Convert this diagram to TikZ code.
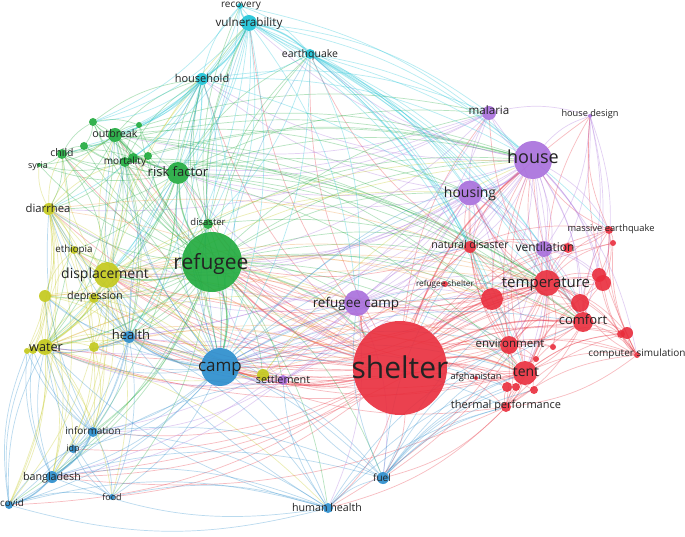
\documentclass[tikz,border=0pt]{standalone}
\usepackage{fontspec}
\setmainfont{Open Sans}
\pgfdeclarelayer{bg}
\pgfdeclarelayer{edges}
\pgfsetlayers{bg,edges,main}
\definecolor{cRed}{RGB}{233,45,60}
\definecolor{cPur}{RGB}{168,110,220}
\definecolor{cGrn}{RGB}{30,170,60}
\definecolor{cYel}{RGB}{195,200,25}
\definecolor{cCyn}{RGB}{25,195,215}
\definecolor{cBlu}{RGB}{40,140,205}
\definecolor{cOrg}{RGB}{240,150,60}
\definecolor{cTxt}{RGB}{35,35,35}
\tikzset{
  dot/.style={circle, inner sep=0pt, draw=none, fill opacity=0.9},
  lab/.style={inner sep=0pt, text=cTxt, anchor=base},
  edge/.style={line width=0.7pt, draw opacity=0.32},
  bigedge/.style={line width=1.6pt, draw opacity=0.32}
}
\newcommand\vnode[5]{\node[dot, minimum size=#4*2pt, fill=#5] (#1) at (#2,#3) {};}
\newcommand\vlabel[5]{\node[lab, font={\fontsize{#4}{#4}\selectfont}] (l#1) at (#2,{#3+0.27*#4}) {#5};}
\newcommand\vedges[3]{\foreach \t in {#3} {\draw[edge, draw=#2] (#1) to[bend left=15] (\t);}}
\begin{document}
\begin{tikzpicture}[x=1pt,y=-1pt]
\useasboundingbox (0,0) rectangle (685,537);
\begin{pgfonlayer}{bg}
\fill[white] (0,0) rectangle (685,537);
\end{pgfonlayer}
% ---------- nodes: red
\vnode{shelter}{400}{368}{47}{cRed}
\vnode{temp}{547}{283}{13}{cRed}
\vnode{comfort}{583}{322}{10}{cRed}
\vnode{r2}{580}{303}{9}{cRed}
\vnode{r3}{492}{299}{11}{cRed}
\vnode{natdis}{470}{247}{6}{cRed}
\vnode{refsh}{445}{284}{3}{cRed}
\vnode{masseq}{609}{230}{4}{cRed}
\vnode{r4}{613}{243}{3}{cRed}
\vnode{r5}{568}{248}{5}{cRed}
\vnode{r6}{599}{275}{7}{cRed}
\vnode{r7}{603}{283}{8}{cRed}
\vnode{env}{509}{345}{9}{cRed}
\vnode{r8}{553}{347}{3}{cRed}
\vnode{tent}{525}{373}{12}{cRed}
\vnode{r9}{536}{359}{3}{cRed}
\vnode{r10}{507}{387}{5}{cRed}
\vnode{r11}{516}{387}{4}{cRed}
\vnode{r12}{534}{390}{4}{cRed}
\vnode{afgh}{476}{378}{2}{cRed}
\vnode{thermal}{506}{407}{5}{cRed}
\vnode{compsim}{637}{355}{3}{cRed}
\vnode{r13}{621}{334}{4}{cRed}
\vnode{r14}{627}{333}{6}{cRed}
% purple
\vnode{house}{533}{160}{19}{cPur}
\vnode{housing}{470}{193}{12.5}{cPur}
\vnode{malaria}{489}{113}{7}{cPur}
\vnode{hdesign}{590}{116}{2}{cPur}
\vnode{vent}{544}{249}{8}{cPur}
\vnode{refcamp}{357}{303}{13}{cPur}
\vnode{settle}{283}{380}{5}{cPur}
% yellow
\vnode{displ}{107}{275}{13}{cYel}
\vnode{diarr}{49}{209}{6}{cYel}
\vnode{ethiop}{74}{250}{4}{cYel}
\vnode{depr}{94}{298}{5}{cYel}
\vnode{y1}{45}{296}{6}{cYel}
\vnode{water}{45}{347}{8}{cYel}
\vnode{y2}{27}{351}{3}{cYel}
\vnode{y3}{33}{350}{4}{cYel}
\vnode{y4}{94}{347}{5}{cYel}
\vnode{y5}{263}{375}{6}{cYel}
% green
\vnode{refugee}{212}{262}{30}{cGrn}
\vnode{risk}{178}{173}{11}{cGrn}
\vnode{disaster}{208}{224}{5}{cGrn}
\vnode{outbreak}{115}{135}{7}{cGrn}
\vnode{mortal}{125}{162}{5}{cGrn}
\vnode{g1}{133}{158}{5}{cGrn}
\vnode{g2}{148}{156}{4}{cGrn}
\vnode{child}{62}{154}{5}{cGrn}
\vnode{syria}{39}{165}{2}{cGrn}
\vnode{g3}{93}{122}{4}{cGrn}
\vnode{g4}{139}{125}{3}{cGrn}
\vnode{g5}{84}{146}{4}{cGrn}
% cyan
\vnode{vuln}{249}{23}{8}{cCyn}
\vnode{recov}{240}{6}{3}{cCyn}
\vnode{quake}{310}{54}{5}{cCyn}
\vnode{hhold}{202}{79}{6}{cCyn}
% blue
\vnode{camp}{220}{367}{19}{cBlu}
\vnode{health}{129}{337}{6}{cBlu}
\vnode{info}{93}{432}{5}{cBlu}
\vnode{idp}{73}{449}{4}{cBlu}
\vnode{bangla}{52}{477}{6}{cBlu}
\vnode{covid}{9}{505}{4}{cBlu}
\vnode{food}{112}{497}{3}{cBlu}
\vnode{hhealth}{328}{508}{5}{cBlu}
\vnode{fuel}{383}{478}{6}{cBlu}
% ---------- edges
\begin{pgfonlayer}{edges}
\foreach \s/\t/\c in {shelter/refugee/cRed, shelter/camp/cRed, shelter/temp/cRed, shelter/house/cRed, shelter/refcamp/cRed, refugee/camp/cGrn, house/housing/cPur, refugee/risk/cGrn, refugee/displ/cGrn, camp/health/cBlu, displ/water/cYel, vuln/quake/cCyn, vuln/hhold/cCyn, shelter/tent/cRed, shelter/comfort/cRed, temp/comfort/cRed, refugee/shelter/cGrn, vuln/recov/cCyn, bangla/covid/cBlu, info/bangla/cBlu, risk/outbreak/cGrn}
  {\draw[bigedge, draw=\c] (\s) to[bend left=15] (\t);}
\vedges{shelter}{cRed}{temp, comfort, r2, r3, natdis, refsh, masseq, r4, r5, r6, r7, env, r8, tent, r9, r10, r11, r12, afgh, thermal, compsim, r13, r14, house, housing, malaria, hdesign, vent, refcamp, settle, displ, diarr, water, depr, refugee, risk, disaster, outbreak, mortal, vuln, quake, hhold, camp, health, info, idp, bangla, covid, food, hhealth, fuel, y4, y5, ethiop, child}
\vedges{temp}{cRed}{comfort, r2, r3, natdis, masseq, r4, r5, r6, r7, env, tent, thermal, compsim, r13, r14, r8, r9, house, housing, vent, refugee, camp, refcamp, malaria, hdesign, displ, health, water, bangla, hhealth, fuel}
\vedges{comfort}{cRed}{r2, r6, r7, compsim, r13, r14, env, tent, r3, thermal, masseq, house, housing, vent, natdis, refugee, camp}
\vedges{r3}{cRed}{natdis, env, tent, thermal, refsh, r2, house, housing, refugee, camp}
\vedges{tent}{cRed}{env, r9, r10, r11, r12, thermal, compsim, r13, r14, r2, r7, afgh, natdis, house, refugee, camp, displ, health, water}
\vedges{env}{cRed}{r8, r9, thermal, compsim, r2, natdis, house, housing, health, refugee, camp}
\vedges{natdis}{cRed}{masseq, r5, vent, house, housing, refugee, camp, quake}
\vedges{compsim}{cRed}{r13, r14, masseq, r4, r2, r6, r7, thermal, hdesign}
\vedges{thermal}{cRed}{r10, r11, r12, compsim, r14, comfort, hhealth, fuel, camp, bangla}
\vedges{masseq}{cRed}{r4, r6, r7, r5, hdesign, house}
\vedges{house}{cPur}{housing, malaria, hdesign, vent, refcamp, temp, comfort, r3, r6, r7, tent, env, natdis, refugee, camp, settle, health, displ, quake, vuln, hhold, risk, compsim, r2, masseq}
\vedges{housing}{cPur}{malaria, vent, refcamp, temp, comfort, r3, tent, env, natdis, refugee, camp, settle, health, displ, risk, hhold}
\vedges{malaria}{cPur}{hdesign, vent, refugee, risk, outbreak, mortal, diarr, camp, refcamp}
\vedges{hdesign}{cPur}{vent, temp, comfort, r2, r7}
\vedges{vent}{cPur}{temp, comfort, r3, r5, r6, r7, tent, env}
\vedges{refcamp}{cPur}{refugee, camp, settle, health, displ, water, temp, tent, r3, env, natdis, risk, diarr, info, bangla, hhealth, fuel}
\vedges{settle}{cPur}{camp, refugee, displ, water, health, info, bangla, temp}
\vedges{refugee}{cGrn}{camp, displ, health, risk, disaster, outbreak, mortal, g1, g2, child, syria, g3, g4, g5, diarr, water, depr, ethiop, y1, y3, y4, hhold, vuln, quake, recov, house, housing, refcamp, temp, tent, comfort, info, bangla, idp, covid, food, settle, malaria, natdis, env, hhealth, fuel, r3, y5}
\vedges{risk}{cGrn}{disaster, outbreak, mortal, g1, g2, child, syria, g3, g4, g5, diarr, displ, water, health, camp, hhold, vuln, quake, house, housing, temp, comfort, tent, r3, malaria, depr, ethiop, info}
\vedges{outbreak}{cGrn}{mortal, g1, g2, child, syria, g3, g4, g5, diarr, camp, health, water, displ, hhold, malaria, house, housing, temp, r3, comfort}
\vedges{mortal}{cGrn}{g1, g2, child, syria, g3, g4, g5, diarr, camp, health, water, displ, hhold, house, temp, natdis}
\vedges{child}{cGrn}{syria, g3, g5, g1, diarr, displ, water, camp, house}
\vedges{g3}{cGrn}{g4, g5, g1, hhold}
\vedges{g1}{cGrn}{house, temp}
\vedges{disaster}{cGrn}{camp, hhold, vuln, quake, displ, house, temp, health}
\vedges{displ}{cYel}{diarr, ethiop, depr, y1, water, y2, y3, y4, y5, health, camp, refugee, risk, mortal, outbreak, child, info, bangla, idp, covid, house, housing, refcamp, hhold, vuln, food}
\vedges{diarr}{cYel}{ethiop, y1, water, y2, y3, y4, depr, camp, health, info, bangla, covid, child, syria, mortal, outbreak}
\vedges{water}{cYel}{y1, y2, y3, y4, depr, ethiop, health, camp, info, bangla, idp, covid, food, hhealth, refcamp, house}
\vedges{y1}{cYel}{y2, y3, y4, depr, ethiop, camp, health, bangla, covid}
\vedges{y4}{cYel}{depr, health, camp, info, bangla, y3}
\vedges{y5}{cYel}{camp, settle, refcamp, health, displ, water, house}
\vedges{depr}{cYel}{ethiop, health, camp, info}
\vedges{ethiop}{cYel}{camp, health}
\vedges{displ}{cOrg}{shelter, temp, tent, comfort, r3}
\vedges{water}{cOrg}{shelter, temp}
\vedges{diarr}{cOrg}{shelter, temp}
\vedges{y5}{cOrg}{shelter, temp}
\vedges{depr}{cOrg}{shelter, temp}
\vedges{y1}{cOrg}{shelter}
\vedges{y4}{cOrg}{shelter, tent}
\vedges{vuln}{cCyn}{recov, quake, hhold, refugee, risk, camp, health, displ, house, housing, temp, comfort, r3, natdis, outbreak, mortal, g3, g4, disaster, malaria, refcamp}
\vedges{quake}{cCyn}{recov, hhold, natdis, masseq, house, housing, temp, comfort, r3, r2, refcamp, camp, disaster, vent, tent, env}
\vedges{hhold}{cCyn}{recov, camp, health, displ, outbreak, mortal, g3, g4, g5, child, diarr, water, risk, disaster, malaria, house, temp}
\vedges{recov}{cCyn}{hhold, quake, risk, g3, house}
\vedges{camp}{cBlu}{health, info, idp, bangla, covid, food, hhealth, fuel, settle, y5, refcamp, displ, water, diarr, y1, y4, depr, risk, disaster, outbreak, mortal, hhold, vuln, quake, house, housing, temp, tent, env, comfort, thermal, r3, natdis, r10}
\vedges{health}{cBlu}{info, idp, bangla, covid, food, water, y1, y3, y4, depr, displ, diarr, hhealth, fuel, risk, mortal, outbreak, hhold}
\vedges{info}{cBlu}{idp, bangla, covid, food, water, y2, y3, diarr, y1, hhealth, fuel}
\vedges{bangla}{cBlu}{idp, covid, food, water, y2, y3, hhealth, fuel, settle}
\vedges{covid}{cBlu}{idp, food, water, y2, y3, hhealth}
\vedges{food}{cBlu}{idp, hhealth, water}
\vedges{hhealth}{cBlu}{fuel, water, diarr, covid, bangla, settle, tent, thermal, env}
\vedges{fuel}{cBlu}{tent, thermal, env, comfort, temp, r10, r11, r12, natdis, settle, refcamp}
\end{pgfonlayer}
% ---------- labels
\vlabel{shelter}{400}{370}{30}{shelter}
\vlabel{temp}{546}{283}{15}{temperature}
\vlabel{comfort}{583}{321}{13}{comfort}
\vlabel{natdis}{470}{246}{10.6}{natural disaster}
\vlabel{refsh}{445}{284}{8.2}{refugee shelter}
\vlabel{masseq}{611}{229}{9.3}{massive earthquake}
\vlabel{vent}{545}{248}{12}{ventilation}
\vlabel{env}{510}{344}{11.5}{environment}
\vlabel{tent}{526}{373}{14}{tent}
\vlabel{afgh}{476}{377}{9.3}{afghanistan}
\vlabel{thermal}{506}{406}{11}{thermal performance}
\vlabel{compsim}{637}{354}{10}{computer simulation}
\vlabel{house}{533}{159}{18}{house}
\vlabel{housing}{470}{194}{14}{housing}
\vlabel{malaria}{489}{111}{11.6}{malaria}
\vlabel{hdesign}{590}{114}{9.2}{house design}
\vlabel{refcamp}{356}{304}{13.5}{refugee camp}
\vlabel{settle}{283}{381}{10.8}{settlement}
\vlabel{displ}{105}{275}{14}{displacement}
\vlabel{diarr}{48}{209}{11.3}{diarrhea}
\vlabel{ethiop}{74}{250}{9.8}{ethiopia}
\vlabel{depr}{95}{297}{10.8}{depression}
\vlabel{water}{46}{348}{12.7}{water}
\vlabel{refugee}{211}{264}{21}{refugee}
\vlabel{risk}{178}{173}{13}{risk factor}
\vlabel{disaster}{208}{223}{9.5}{disaster}
\vlabel{outbreak}{115}{135}{10.7}{outbreak}
\vlabel{mortal}{125}{162}{10}{mortality}
\vlabel{child}{62}{154}{10.5}{child}
\vlabel{syria}{38}{166}{9}{syria}
\vlabel{vuln}{249}{23}{11.7}{vulnerability}
\vlabel{recov}{241}{5}{10}{recovery}
\vlabel{quake}{310}{55}{10.5}{earthquake}
\vlabel{hhold}{202}{80}{11}{household}
\vlabel{camp}{220}{367}{17}{camp}
\vlabel{health}{131}{336}{13}{health}
\vlabel{info}{93}{432}{10}{information}
\vlabel{idp}{73}{449}{9}{idp}
\vlabel{bangla}{52}{478}{10.7}{bangladesh}
\vlabel{covid}{12}{504}{9.8}{covid}
\vlabel{food}{112}{498}{9}{food}
\vlabel{hhealth}{327}{509}{10.7}{human health}
\vlabel{fuel}{382}{479}{10}{fuel}
\end{tikzpicture}
\end{document}
